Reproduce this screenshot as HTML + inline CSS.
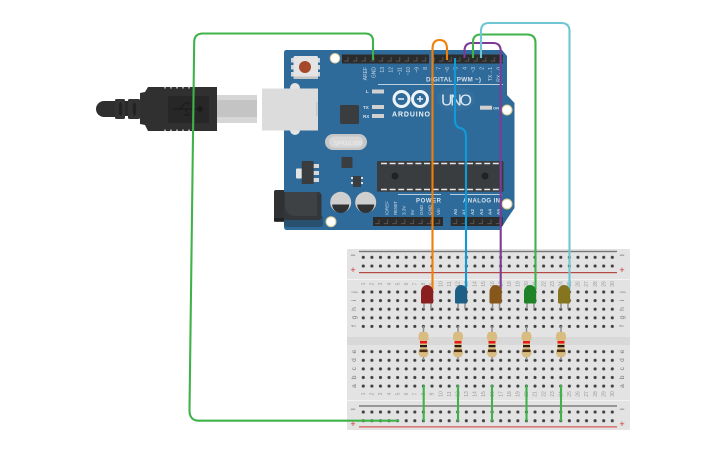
<!DOCTYPE html>
<html><head><meta charset="utf-8">
<style>
html,body{margin:0;padding:0;background:#fff;width:725px;height:453px;overflow:hidden}
svg{display:block;filter:blur(.35px)}
text{font-family:"Liberation Sans",sans-serif}
.p{font-size:5px;fill:#c9d8e6;text-anchor:end}
.q{font-size:4.6px;fill:#c9d8e6}
.n{font-size:5px;fill:#999;text-anchor:middle}
.l{font-size:6.5px;fill:#777;text-anchor:middle}
.w{fill:none;stroke-width:2.1;stroke-linecap:butt}
</style></head><body>
<svg width="725" height="453" viewBox="0 0 725 453" xmlns="http://www.w3.org/2000/svg">
<defs>
<pattern id="h1" patternUnits="userSpaceOnUse" x="359" y="253" width="8.586" height="8.7"><circle cx="4.3" cy="4.3" r="1.55" fill="#404040"/></pattern>
<pattern id="h2" patternUnits="userSpaceOnUse" x="359" y="287.7" width="8.586" height="8.6"><circle cx="4.3" cy="4.3" r="1.55" fill="#404040"/></pattern>
<pattern id="h3" patternUnits="userSpaceOnUse" x="359" y="347.4" width="8.586" height="8.6"><circle cx="4.3" cy="4.3" r="1.55" fill="#404040"/></pattern>
<pattern id="h4" patternUnits="userSpaceOnUse" x="359" y="407.7" width="8.586" height="8.7"><circle cx="4.3" cy="4.3" r="1.55" fill="#404040"/></pattern>
<pattern id="pin" patternUnits="userSpaceOnUse" x="342" y="54.5" width="8.62" height="9"><rect width="8.62" height="9" fill="#2b2b2b"/><path d="M2.2 6.6H6V2.5" fill="none" stroke="#565656" stroke-width="1"/></pattern>
<pattern id="pin2" patternUnits="userSpaceOnUse" x="373" y="217" width="8.62" height="9"><rect width="8.62" height="9" fill="#2b2b2b"/><path d="M2.2 6.6H6V2.5" fill="none" stroke="#565656" stroke-width="1"/></pattern>
</defs>

<!-- USB cable -->
<path d="M115 101H104a8 8 0 0 0 0 16H115Z" fill="#2f2f2f"/>
<rect x="115" y="99" width="10" height="20" rx="1.5" fill="#333"/>
<rect x="125" y="101" width="3" height="15" fill="#2a2a2a"/>
<rect x="128" y="99" width="12" height="20" rx="1.5" fill="#333"/>
<ellipse cx="120.5" cy="109" rx="1.8" ry="7" fill="#222"/>
<ellipse cx="134.5" cy="109" rx="1.8" ry="7" fill="#222"/>
<path d="M140 93L145 92L148 87H217V131H148L145 125L140 124Z" fill="#303030"/>
<g fill="#fff" opacity=".55"><rect x="164" y="87" width="2" height="1.5"/><rect x="170" y="87" width="2" height="1.5"/><rect x="176" y="87" width="2" height="1.5"/><rect x="182" y="87" width="2" height="1.5"/><rect x="188" y="87" width="2" height="1.5"/><rect x="164" y="129.5" width="2" height="1.5"/><rect x="170" y="129.5" width="2" height="1.5"/><rect x="176" y="129.5" width="2" height="1.5"/><rect x="182" y="129.5" width="2" height="1.5"/><rect x="188" y="129.5" width="2" height="1.5"/></g>
<rect x="168" y="96" width="41" height="27" fill="#272727"/>
<path d="M173 109H200M180 109L185 103H190M185 109L189 115H184" fill="none" stroke="#1a1a1a" stroke-width="1"/>
<circle cx="200" cy="109" r="2.8" fill="#1a1a1a"/>
<rect x="217" y="95" width="40" height="28" fill="#d6d6d6"/>
<rect x="217" y="100" width="40" height="17" fill="#c4c4c4"/>

<!-- Arduino board -->
<path d="M286 50H502L507 56V95L514.500 103V208L507 219L500 230H287Q284 230 284 227V53Q284 50 286 50Z" fill="#2f6b9a"/>
<rect x="290" y="83" width="10" height="52" rx="5" fill="#e4e4e4"/>
<rect x="262" y="88.500" width="56" height="42" fill="#dcdcdc"/>
<rect x="316" y="102" width="1.500" height="14" fill="#c8c8c8"/>
<g fill="#cfd6dc"><rect x="291" y="58" width="3" height="4.500"/><rect x="291" y="65" width="3" height="4.500"/><rect x="291" y="72" width="3" height="4.500"/><rect x="317" y="58" width="3" height="4.500"/><rect x="317" y="65" width="3" height="4.500"/><rect x="317" y="72" width="3" height="4.500"/></g>
<rect x="293.500" y="56" width="24.500" height="23" rx="1.500" fill="#e4e4e4"/>
<rect x="293.500" y="76.500" width="24.500" height="2.500" fill="#c4c4c4"/>
<circle cx="305" cy="67" r="6" fill="#a5492a"/>
<g fill="#fff" stroke="#d8c98f" stroke-width="1"><circle cx="335" cy="58.300" r="4.800"/><circle cx="507" cy="110" r="5"/><circle cx="507" cy="204" r="5"/><circle cx="331" cy="221.700" r="5"/></g>
<rect x="342" y="54.500" width="87" height="9" fill="url(#pin)"/>
<rect x="434" y="54.500" width="68.800" height="9" fill="url(#pin)"/>
<rect x="373" y="217" width="70" height="9" fill="url(#pin2)"/>
<rect x="450.700" y="217" width="52" height="9" fill="url(#pin2)"/>

<g class="p" font-weight="400">
<text class="p" transform="translate(367 67) rotate(-90)">AREF</text>
<text class="p" transform="translate(375.500 67) rotate(-90)">GND</text>
<text class="p" transform="translate(384 67) rotate(-90)">13</text>
<text class="p" transform="translate(392.500 67) rotate(-90)">12</text>
<text class="p" transform="translate(401.300 67) rotate(-90)">~11</text>
<text class="p" transform="translate(410 67) rotate(-90)">~10</text>
<text class="p" transform="translate(418.500 67) rotate(-90)">~9</text>
<text class="p" transform="translate(427 67) rotate(-90)">8</text>
<text class="p" transform="translate(440.500 67) rotate(-90)">7</text>
<text class="p" transform="translate(449 67) rotate(-90)">~6</text>
<text class="p" transform="translate(457.700 67) rotate(-90)">5</text>
<text class="p" transform="translate(466.500 67) rotate(-90)">4</text>
<text class="p" transform="translate(475 67) rotate(-90)">~3</text>
<text class="p" transform="translate(483.500 67) rotate(-90)">2</text>
<text class="p" transform="translate(492 67) rotate(-90)">TX→1</text>
<text class="p" transform="translate(500.500 67) rotate(-90)">RX←0</text>
</g>
<text x="426" y="81.700" font-size="6.300" font-weight="700" fill="#d2deea" textLength="55">DIGITAL (PWM ~)</text>
<rect x="378" y="84" width="125" height=".8" fill="#dfe8f0"/>

<rect x="372" y="89.500" width="12" height="4" fill="#d0d0d0"/>
<rect x="372" y="105" width="12" height="4" fill="#d0d0d0"/>
<rect x="372" y="114" width="12" height="4" fill="#d0d0d0"/>
<rect x="480" y="105.700" width="12" height="4" fill="#d0d0d0"/>
<text x="366" y="93" font-size="4.500" font-weight="700" fill="#dbe5ee">L</text>
<text x="363" y="109" font-size="4.500" font-weight="700" fill="#dbe5ee">TX</text>
<text x="363" y="118" font-size="4.500" font-weight="700" fill="#dbe5ee">RX</text>
<text x="493" y="109.500" font-size="4" font-weight="700" fill="#dbe5ee">ON</text>

<rect x="340" y="105" width="19" height="19" rx="1.500" fill="#3a3d40"/>
<circle cx="401.500" cy="99" r="7.500" fill="none" stroke="#eef3f7" stroke-width="3"/>
<circle cx="420" cy="99" r="7.500" fill="none" stroke="#eef3f7" stroke-width="3"/>
<path d="M398 99h6M417 99h6M420 96v6" stroke="#eef3f7" stroke-width="1.500"/>
<text x="392" y="116.500" font-size="7" font-weight="700" fill="#eef3f7" textLength="38">ARDUINO</text>
<ellipse cx="456" cy="99" rx="19" ry="12" fill="#356f9e"/>
<text x="441" y="105.500" font-size="16" fill="#dbe7f0" textLength="31">UNO</text>

<rect x="325" y="134" width="42" height="16" rx="8" fill="#c6c6c6"/>
<rect x="329" y="136.500" width="34" height="11" rx="5.500" fill="#d8d8d8"/>
<text x="334" y="145" font-size="5.500" fill="#eee">SPK16.000</text>
<rect x="341.500" y="157" width="11" height="11" rx="1" fill="#3a3d40"/>
<g fill="#ddd"><rect x="351" y="177" width="3" height="2"/><rect x="351" y="182" width="3" height="2"/><rect x="360" y="177" width="3" height="2"/><rect x="360" y="182" width="3" height="2"/></g>
<rect x="353" y="176" width="8" height="11" fill="#3a3d40"/>
<rect x="296" y="168.500" width="7" height="10" rx="1" fill="#e4e4e4"/>
<g fill="#d8d8d8"><rect x="312" y="164" width="7" height="4"/><rect x="312" y="171" width="7" height="4"/><rect x="312" y="178" width="7" height="4"/></g>
<rect x="301.700" y="161" width="12" height="23" rx="1" fill="#3a3d40"/>

<rect x="377" y="161" width="126.500" height="30.700" rx="1" fill="#3a3d40"/>
<path d="M381 163.500H500M381 189.500H500" stroke="#e6e6e6" stroke-width="1.500" stroke-dasharray="6 2.600"/>
<circle cx="395" cy="176" r="3.500" fill="#222"/>
<circle cx="485" cy="176" r="3.500" fill="#222"/>

<rect x="284" y="215" width="39" height="12" rx="3" fill="#28506f"/>
<path d="M274 192Q274 190 276 190H284V221.700H276Q274 221.700 274 219Z" fill="#2f3133"/>
<path d="M284 192H318Q321.500 192 321.500 196V217Q321.500 220 318 220H284Z" fill="#33363a"/>
<path d="M285 192H317V216H296Q286 216 285 206Z" fill="#3f4245"/>
<rect x="274" y="218" width="10" height="3.700" fill="#222"/>
<g><circle cx="340.700" cy="202.300" r="10.500" fill="#cfcfcf"/><path d="M332.200 204.500a8.500 8.500 0 0 0 17 0Z" fill="#303234"/>
<circle cx="365.700" cy="202.300" r="10.500" fill="#cfcfcf"/><path d="M357.200 204.500a8.500 8.500 0 0 0 17 0Z" fill="#303234"/></g>

<rect x="398" y="194" width="43" height=".8" fill="#dfe8f0"/>
<rect x="450" y="194" width="52" height=".8" fill="#dfe8f0"/>
<text x="416" y="202.500" font-size="6" font-weight="700" fill="#d8e3ec" textLength="25">POWER</text>
<text x="463" y="202.500" font-size="6" font-weight="700" fill="#d8e3ec" textLength="37">ANALOG IN</text>
<text class="q" transform="translate(388.500 215) rotate(-90)" textLength="14">IOREF</text>
<text class="q" transform="translate(397 215) rotate(-90)" textLength="14">RESET</text>
<text class="q" transform="translate(405.500 215) rotate(-90)">3.3V</text>
<text class="q" transform="translate(414 215) rotate(-90)">5V</text>
<text class="q" transform="translate(423 215) rotate(-90)">GND</text>
<text class="q" transform="translate(431.500 215) rotate(-90)">GND</text>
<text class="q" transform="translate(440 215) rotate(-90)">Vin</text>
<text class="q" transform="translate(457 215) rotate(-90)" font-weight="700">A0</text>
<text class="q" transform="translate(465.500 215) rotate(-90)" font-weight="700">A1</text>
<text class="q" transform="translate(474 215) rotate(-90)" font-weight="700">A2</text>
<text class="q" transform="translate(483 215) rotate(-90)" font-weight="700">A3</text>
<text class="q" transform="translate(491.500 215) rotate(-90)" font-weight="700">A4</text>
<text class="q" transform="translate(500 215) rotate(-90)" font-weight="700">A5</text>

<!-- Breadboard -->
<rect x="347" y="249" width="283" height="181" rx="1" fill="#e3e3e3"/>
<rect x="347" y="337" width="283" height="8" fill="#d8d8d8"/>
<rect x="347" y="279" width="283" height="1" fill="#f2f2f2"/>
<rect x="347" y="400" width="283" height="1" fill="#f2f2f2"/>
<rect x="359" y="250.800" width="258" height="1.400" fill="#777"/>
<rect x="359" y="272" width="258" height="1.200" fill="#b44a44"/>
<rect x="359" y="405.300" width="258" height="1.400" fill="#777"/>
<rect x="359" y="426" width="258" height="1.600" fill="#d77a75"/>
<rect x="359" y="253" width="258" height="17.400" fill="url(#h1)"/>
<rect x="359" y="287.700" width="258" height="43" fill="url(#h2)"/>
<rect x="359" y="347.400" width="258" height="43" fill="url(#h3)"/>
<rect x="359" y="407.700" width="258" height="17.400" fill="url(#h4)"/>
<g font-size="9" text-anchor="middle">
<text x="353" y="258" fill="#666">−</text><text x="353" y="273" fill="#c33">+</text>
<text x="622" y="258" fill="#666">−</text><text x="622" y="273" fill="#c33">+</text>
<text x="353" y="412" fill="#666">−</text><text x="353" y="427" fill="#c33">+</text>
<text x="622" y="412" fill="#666">−</text><text x="622" y="427" fill="#c33">+</text>
</g>
<g class="l">
<text class="l" transform="translate(356 292) rotate(-90)">j</text><text class="l" transform="translate(356 300.500) rotate(-90)">i</text><text class="l" transform="translate(356 309) rotate(-90)">h</text><text class="l" transform="translate(356 317.600) rotate(-90)">g</text><text class="l" transform="translate(356 326) rotate(-90)">f</text>
<text class="l" transform="translate(356 351.700) rotate(-90)">e</text><text class="l" transform="translate(356 360) rotate(-90)">d</text><text class="l" transform="translate(356 368.700) rotate(-90)">c</text><text class="l" transform="translate(356 377.300) rotate(-90)">b</text><text class="l" transform="translate(356 386) rotate(-90)">a</text>
<text class="l" transform="translate(624 292) rotate(-90)">j</text><text class="l" transform="translate(624 300.500) rotate(-90)">i</text><text class="l" transform="translate(624 309) rotate(-90)">h</text><text class="l" transform="translate(624 317.600) rotate(-90)">g</text><text class="l" transform="translate(624 326) rotate(-90)">f</text>
<text class="l" transform="translate(624 351.700) rotate(-90)">e</text><text class="l" transform="translate(624 360) rotate(-90)">d</text><text class="l" transform="translate(624 368.700) rotate(-90)">c</text><text class="l" transform="translate(624 377.300) rotate(-90)">b</text><text class="l" transform="translate(624 386) rotate(-90)">a</text>
</g>
<g>
<text class="n" transform="translate(365 284) rotate(-90)">1</text><text class="n" transform="translate(373.600 284) rotate(-90)">2</text><text class="n" transform="translate(382.200 284) rotate(-90)">3</text><text class="n" transform="translate(390.800 284) rotate(-90)">4</text><text class="n" transform="translate(399.300 284) rotate(-90)">5</text><text class="n" transform="translate(407.900 284) rotate(-90)">6</text><text class="n" transform="translate(416.500 284) rotate(-90)">7</text><text class="n" transform="translate(425.100 284) rotate(-90)">8</text><text class="n" transform="translate(433.700 284) rotate(-90)">9</text><text class="n" transform="translate(442.300 284) rotate(-90)">10</text><text class="n" transform="translate(450.900 284) rotate(-90)">11</text><text class="n" transform="translate(459.400 284) rotate(-90)">12</text><text class="n" transform="translate(468 284) rotate(-90)">13</text><text class="n" transform="translate(476.600 284) rotate(-90)">14</text><text class="n" transform="translate(485.200 284) rotate(-90)">15</text><text class="n" transform="translate(493.800 284) rotate(-90)">16</text><text class="n" transform="translate(502.400 284) rotate(-90)">17</text><text class="n" transform="translate(511 284) rotate(-90)">18</text><text class="n" transform="translate(519.500 284) rotate(-90)">19</text><text class="n" transform="translate(528.100 284) rotate(-90)">20</text><text class="n" transform="translate(536.700 284) rotate(-90)">21</text><text class="n" transform="translate(545.300 284) rotate(-90)">22</text><text class="n" transform="translate(553.900 284) rotate(-90)">23</text><text class="n" transform="translate(562.500 284) rotate(-90)">24</text><text class="n" transform="translate(571.100 284) rotate(-90)">25</text><text class="n" transform="translate(579.700 284) rotate(-90)">26</text><text class="n" transform="translate(588.200 284) rotate(-90)">27</text><text class="n" transform="translate(596.800 284) rotate(-90)">28</text><text class="n" transform="translate(605.400 284) rotate(-90)">29</text><text class="n" transform="translate(614 284) rotate(-90)">30</text>
<text class="n" transform="translate(365 394) rotate(-90)">1</text><text class="n" transform="translate(373.600 394) rotate(-90)">2</text><text class="n" transform="translate(382.200 394) rotate(-90)">3</text><text class="n" transform="translate(390.800 394) rotate(-90)">4</text><text class="n" transform="translate(399.300 394) rotate(-90)">5</text><text class="n" transform="translate(407.900 394) rotate(-90)">6</text><text class="n" transform="translate(416.500 394) rotate(-90)">7</text><text class="n" transform="translate(425.100 394) rotate(-90)">8</text><text class="n" transform="translate(433.700 394) rotate(-90)">9</text><text class="n" transform="translate(442.300 394) rotate(-90)">10</text><text class="n" transform="translate(450.900 394) rotate(-90)">11</text><text class="n" transform="translate(459.400 394) rotate(-90)">12</text><text class="n" transform="translate(468 394) rotate(-90)">13</text><text class="n" transform="translate(476.600 394) rotate(-90)">14</text><text class="n" transform="translate(485.200 394) rotate(-90)">15</text><text class="n" transform="translate(493.800 394) rotate(-90)">16</text><text class="n" transform="translate(502.400 394) rotate(-90)">17</text><text class="n" transform="translate(511 394) rotate(-90)">18</text><text class="n" transform="translate(519.500 394) rotate(-90)">19</text><text class="n" transform="translate(528.100 394) rotate(-90)">20</text><text class="n" transform="translate(536.700 394) rotate(-90)">21</text><text class="n" transform="translate(545.300 394) rotate(-90)">22</text><text class="n" transform="translate(553.900 394) rotate(-90)">23</text><text class="n" transform="translate(562.500 394) rotate(-90)">24</text><text class="n" transform="translate(571.100 394) rotate(-90)">25</text><text class="n" transform="translate(579.700 394) rotate(-90)">26</text><text class="n" transform="translate(588.200 394) rotate(-90)">27</text><text class="n" transform="translate(596.800 394) rotate(-90)">28</text><text class="n" transform="translate(605.400 394) rotate(-90)">29</text><text class="n" transform="translate(614 394) rotate(-90)">30</text>
</g>

<!-- Resistors -->
<g>
<path d="M423.500 326V360M458 326V360M492 326V360M526.500 326V360M561 326V360" stroke="#8f8f8f" stroke-width="1.500"/>
<g fill="#d9bc82">
<path d="M420 332h7l1.500 3v4l-1.500 2v8l1.500 2v3l-2 3h-6l-2-3v-3l1.500-2v-8l-1.500-2v-4Z"/>
<path d="M454.500 332h7l1.500 3v4l-1.500 2v8l1.500 2v3l-2 3h-6l-2-3v-3l1.500-2v-8l-1.500-2v-4Z"/>
<path d="M488.500 332h7l1.500 3v4l-1.500 2v8l1.500 2v3l-2 3h-6l-2-3v-3l1.500-2v-8l-1.500-2v-4Z"/>
<path d="M523 332h7l1.500 3v4l-1.500 2v8l1.500 2v3l-2 3h-6l-2-3v-3l1.500-2v-8l-1.500-2v-4Z"/>
<path d="M557.500 332h7l1.500 3v4l-1.500 2v8l1.500 2v3l-2 3h-6l-2-3v-3l1.500-2v-8l-1.500-2v-4Z"/>
</g>
<g fill="#e8191a"><rect x="420" y="341" width="7" height="2.500"/><rect x="454.500" y="341" width="7" height="2.500"/><rect x="488.500" y="341" width="7" height="2.500"/><rect x="523" y="341" width="7" height="2.500"/><rect x="557.500" y="341" width="7" height="2.500"/></g>
<g fill="#2a1d12"><rect x="420" y="345" width="7" height="2.200"/><rect x="454.500" y="345" width="7" height="2.200"/><rect x="488.500" y="345" width="7" height="2.200"/><rect x="523" y="345" width="7" height="2.200"/><rect x="557.500" y="345" width="7" height="2.200"/></g>
<g fill="#4a2f16"><rect x="419.500" y="349.500" width="8" height="2.600"/><rect x="454" y="349.500" width="8" height="2.600"/><rect x="488" y="349.500" width="8" height="2.600"/><rect x="522.500" y="349.500" width="8" height="2.600"/><rect x="557" y="349.500" width="8" height="2.600"/></g>
</g>

<!-- Wires -->
<g class="w">
<path class="w" stroke="#3fb34a" d="M373 60V41Q373 33.500 365 33.500H203Q194.300 33.500 194.200 42L189.500 410Q189.400 420.700 199 420.700H399"/>
<path class="w" stroke="#f07f09" d="M447 60V49Q447 40 439.500 40Q432.500 40 432.500 49V290"/>
<path class="w" stroke="#0f9bd7" d="M455 58V120Q455 127 460 128Q466 129 466 137V290"/>
<path class="w" stroke="#7d3a96" d="M464.500 58V51Q464.500 43 472 43H493Q500.700 43 500.700 51V290"/>
<path class="w" stroke="#3fb34a" d="M473 58V42Q473 34.500 481 34.500H527Q535.500 34.500 535.500 43V290"/>
<path class="w" stroke="#6ec6d2" d="M481 58V31Q481 23 489 23H561Q569.500 23 569.500 31V290"/>
<path class="w" stroke="#3fb34a" d="M423.700 385V421.500M458 385V421.500M492 385V421.500M526.500 385V421.500M561 385V421.500"/>
</g>

<!-- LEDs -->
<path d="M424 303V309M431 303V309M458 303V309M465 303V309M492.500 303V309M499.500 303V309M527 303V309M534 303V309M561 303V309M568 303V309" stroke="#8f8f8f" stroke-width="1.500"/>
<path d="M421 292a6.100 7 0 0 1 12.200 0V302q0 1.500-1 1.500H422q-1 0-1-1.500Z" fill="#8a1f20"/>
<path d="M455 292a6.100 7 0 0 1 12.200 0V302q0 1.500-1 1.500H456q-1 0-1-1.500Z" fill="#1e5f85"/>
<path d="M489.500 292a6.100 7 0 0 1 12.200 0V302q0 1.500-1 1.500H490.500q-1 0-1-1.500Z" fill="#85571b"/>
<path d="M524 292a6.100 7 0 0 1 12.200 0V302q0 1.500-1 1.500H525q-1 0-1-1.500Z" fill="#1f8226"/>
<path d="M558 292a6.100 7 0 0 1 12.200 0V302q0 1.500-1 1.500H559q-1 0-1-1.500Z" fill="#857420"/>
</svg>
</body></html>
